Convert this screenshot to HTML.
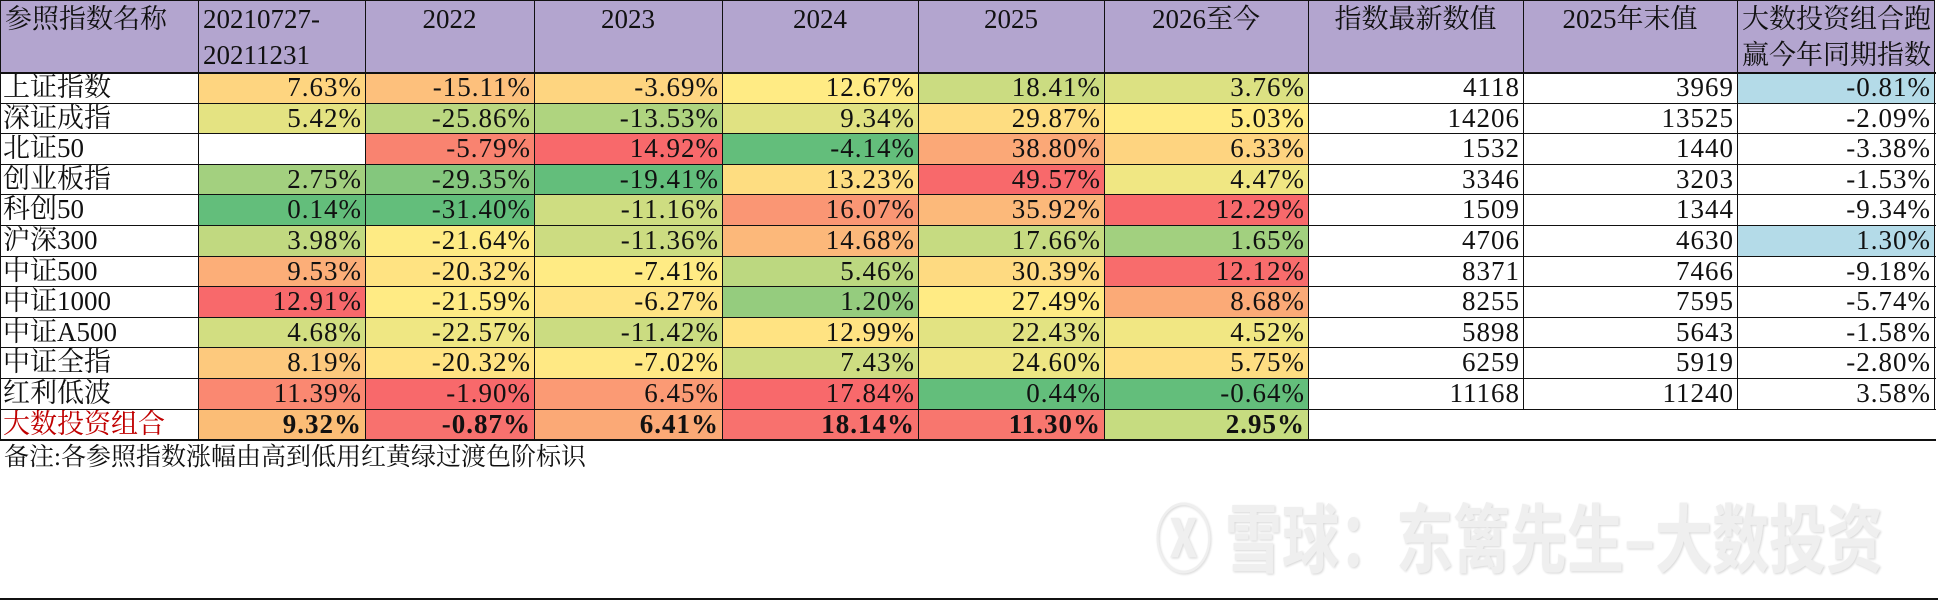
<!DOCTYPE html>
<html><head><meta charset="utf-8">
<style>
html,body{margin:0;padding:0;background:#fff;}
#wrap{position:relative;width:1938px;height:601px;overflow:hidden;background:#fff;font-family:"Liberation Serif","Noto Serif CJK SC",serif;}
.c{position:absolute;box-sizing:border-box;font-size:27px;line-height:31px;color:#111;white-space:nowrap;overflow:hidden;}
.num{text-align:right;padding-right:3px;letter-spacing:1px;}
.hd{background:#b3a5cf;font-size:27px;line-height:36px;text-align:center;padding-top:1px;}
.ln{position:absolute;background:#111;}
#wm{position:absolute;left:1155px;top:495px;white-space:nowrap;font-family:"Noto Sans CJK SC",sans-serif;font-size:57px;line-height:60px;font-weight:bold;color:#efefef;text-shadow:1px 1px 2px #d6d6d6;transform:scale(1,1.32);transform-origin:0 0;}
</style></head>
<body>
<div id="wrap">
<div id="wm">Ⓧ 雪球：东篱先生–大数投资</div>
</div>
<script>
const colX=[0,198,365,534,722,918,1104,1308,1523,1737,1934];
const headers=["参照指数名称","20210727-<br>20211231","2022","2023","2024","2025","2026至今","指数最新数值","2025年末值","大数投资组合跑<br>赢今年同期指数"];
const names=["上证指数","深证成指","北证50","创业板指","科创50","沪深300","中证500","中证1000","中证A500","中证全指","红利低波","大数投资组合"];
const r2021=[7.63,5.42,null,2.75,0.14,3.98,9.53,12.91,4.68,8.19,11.39,9.32];
const r2022=[-15.11,-25.86,-5.79,-29.35,-31.40,-21.64,-20.32,-21.59,-22.57,-20.32,-1.90,-0.87];
const r2023=[-3.69,-13.53,14.92,-19.41,-11.16,-11.36,-7.41,-6.27,-11.42,-7.02,6.45,6.41];
const r2024=[12.67,9.34,-4.14,13.23,16.07,14.68,5.46,1.20,12.99,7.43,17.84,18.14];
const r2025=[18.41,29.87,38.80,49.57,35.92,17.66,30.39,27.49,22.43,24.60,0.44,11.30];
const r2026=[3.76,5.03,6.33,4.47,12.29,1.65,12.12,8.68,4.52,5.75,-0.64,2.95];
const latest=[4118,14206,1532,3346,1509,4706,8371,8255,5898,6259,11168,null];
const end2025=[3969,13525,1440,3203,1344,4630,7466,7595,5643,5919,11240,null];
const beat=[-0.81,-2.09,-3.38,-1.53,-9.34,1.30,-9.18,-5.74,-1.58,-2.80,3.58,null];
const note="备注:各参照指数涨幅由高到低用红黄绿过渡色阶标识";
const portfolioFill=["#fbbd76","#f8716e","#fba976","#f8716e","#f8766e","#c6dc80"];

const W=document.getElementById('wrap');
const headH=72,rowH=30.6;
function mk(cls,x,y,w,h,html){const d=document.createElement('div');d.className=cls;d.style.left=x+'px';d.style.top=y+'px';d.style.width=w+'px';d.style.height=h+'px';d.innerHTML=html;W.appendChild(d);return d;}
function line(x,y,w,h){const d=document.createElement('div');d.className='ln';d.style.left=x+'px';d.style.top=y+'px';d.style.width=w+'px';d.style.height=h+'px';


W.appendChild(d);}
function mix(a,b,t){return a.map((v,i)=>Math.round(v+(b[i]-v)*t));}
const G=[99,190,123],Y=[255,235,132],R=[248,105,107];
function scaleColor(arr,v){const s=arr.slice(0,arr.length-1).filter(x=>x!==null).sort((a,b)=>a-b);const mn=s[0],mx=s[s.length-1];const n=s.length;const med=n%2?s[(n-1)/2]:(s[n/2-1]+s[n/2])/2;
let c;if(v<=med){c=mix(G,Y,Math.max(0,(v-mn)/(med-mn||1)));}else{c=mix(Y,R,Math.min(1,(v-med)/(mx-med||1)));}return 'rgb('+c.join(',')+')';}
headers.forEach((h,i)=>{const d=mk('c hd',colX[i],0,colX[i+1]-colX[i],headH,h);
if(i===0||i===1||i===9){d.style.textAlign='left';d.style.paddingLeft='5px';}

});
const pcts=[r2021,r2022,r2023,r2024,r2025,r2026];
names.forEach((nm,r)=>{const y=headH+r*rowH;const last=r===names.length-1;
const n=mk('c',colX[0],y,colX[1],rowH,nm);n.style.paddingLeft='3px';if(last)n.style.color='#c00000';


pcts.forEach((arr,k)=>{const v=arr[r];const d=mk('c num',colX[k+1],y,colX[k+2]-colX[k+1],rowH,v===null?'':v.toFixed(2)+'%');
if(v!==null)d.style.background=last?portfolioFill[k]:scaleColor(arr,v);if(last)d.style.fontWeight='bold';

});
[[latest,7],[end2025,8]].forEach(([arr,k])=>{const v=arr[r];const d=mk('c num',colX[k],y,colX[k+1]-colX[k],rowH,v===null?'':String(v));

});
const b=beat[r];const d=mk('c num',colX[9],y,colX[10]-colX[9],rowH,b===null?'':b.toFixed(2)+'%');
if(b!==null&&(r===0||r===5))d.style.background='#b4dbe8';


});
line(0,0,1934,1);line(0,headH,1936,2);
for(let r=1;r<=names.length;r++){line(0,Math.round(headH+r*rowH),1936,r===names.length?2:1);}
const bottomRows=headH+names.length*rowH;
colX.slice(0,10).forEach((x,i)=>{if(i===0)return;const yEnd=i<=7?bottomRows:headH+(names.length-1)*rowH;line(x,0,1,yEnd);});
line(1934,0,1,headH+(names.length-1)*rowH);
line(0,0,1,bottomRows);
line(0,598,1938,2);
const nt=mk('c',4,bottomRows+3,800,32,note);nt.style.fontSize='25px';


</script>
</body></html>
